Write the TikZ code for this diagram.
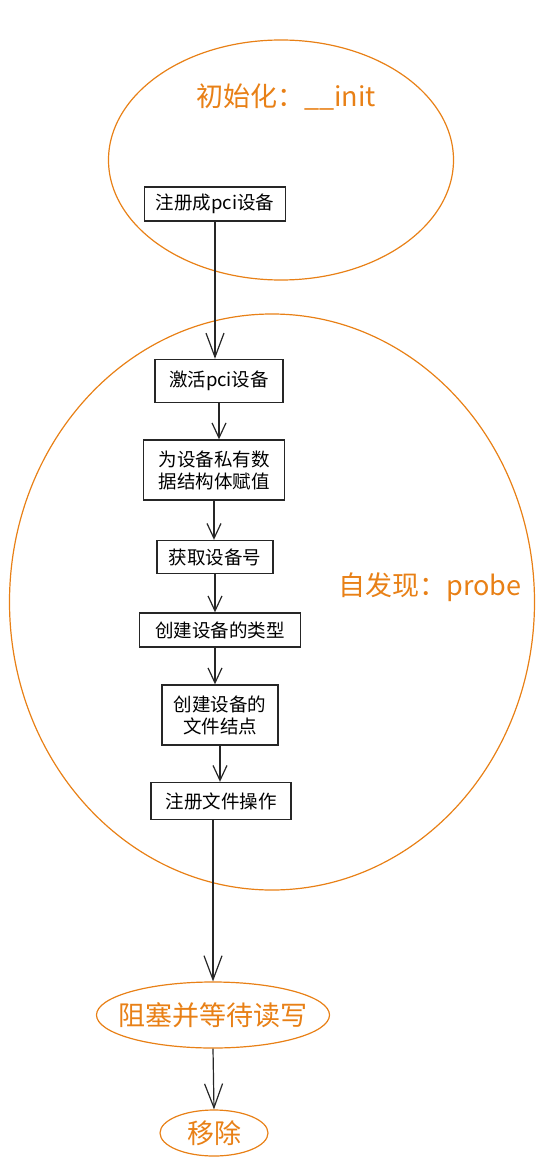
\documentclass[tikz,border=0pt]{standalone}
\usepackage{fontspec}
\setmainfont{Noto Sans CJK SC}
\usetikzlibrary{shapes.geometric,arrows.meta}
\definecolor{accent}{RGB}{232,128,22}
\begin{document}
\begin{tikzpicture}[x=1pt,y=-1pt,
  stepbox/.style={draw=black!85,line width=1.4pt,fill=white,font=\fontsize{18.5}{22}\selectfont,align=center,inner sep=0pt},
  phase/.style={draw=accent,line width=1.2pt,ellipse,inner sep=0pt},
  phasetext/.style={text=accent,font=\fontsize{27}{32}\selectfont,inner sep=0pt},
  flow/.style={draw=black!85,line width=1.2pt,-{Straight Barb[length=15pt,width=14pt,line width=1.2pt]}},
  longflow/.style={flow,-{Straight Barb[length=24pt,width=18pt,line width=1.2pt]}}]
\useasboundingbox (0,0) rectangle (547,1166);
% phases
\node[phase,minimum width=345,minimum height=240] (initzone) at (281,160) {};
\node[phase,minimum width=525,minimum height=576] (probezone) at (272,602) {};
\node[phasetext] (inittitle) at (286,97) {初始化：\_\_init};
\node[phasetext] (probetitle) at (430,587) {自发现：probe};
% steps
\node[stepbox,minimum width=141,minimum height=34] (reg) at (215,204) {注册成pci设备};
\node[stepbox,minimum width=128,minimum height=43] (enable) at (219,381) {激活pci设备};
\node[stepbox,minimum width=141,minimum height=60] (priv) at (214,470) {为设备私有数\\据结构体赋值};
\node[stepbox,minimum width=116,minimum height=33] (devno) at (215,557) {获取设备号};
\node[stepbox,minimum width=161,minimum height=34] (cls) at (220,630) {创建设备的类型};
\node[stepbox,minimum width=116,minimum height=60] (devnode) at (220,715) {创建设备的\\文件结点};
\node[stepbox,minimum width=140,minimum height=37] (fops) at (221,801) {注册文件操作};
% end states: outline and label
\node[phase,minimum width=233,minimum height=66] (wait) at (213,1015) {};
\node[phasetext] (waitlabel) at (wait.center) {阻塞并等待读写};
\node[phase,minimum width=108,minimum height=46] (remove) at (214,1133) {};
\node[phasetext] (removelabel) at (remove.center) {移除};
% connectors
\draw[longflow] (reg.south) -- (reg.south |- enable.north);
\draw[flow] (enable.south) -- (enable.south |- priv.north);
\draw[flow] (priv.south) -- (priv.south |- devno.north);
\draw[flow] (devno.south) -- (devno.south |- cls.north);
\draw[flow] (cls.south -| devno.south) -- (devno.south |- devnode.north);
\draw[flow] (devnode.south) -- (devnode.south |- fops.north);
\draw[longflow] (wait.north |- fops.south) -- (wait.north);
\draw[longflow] (wait.south) -- (remove.north);
\end{tikzpicture}
\end{document}
